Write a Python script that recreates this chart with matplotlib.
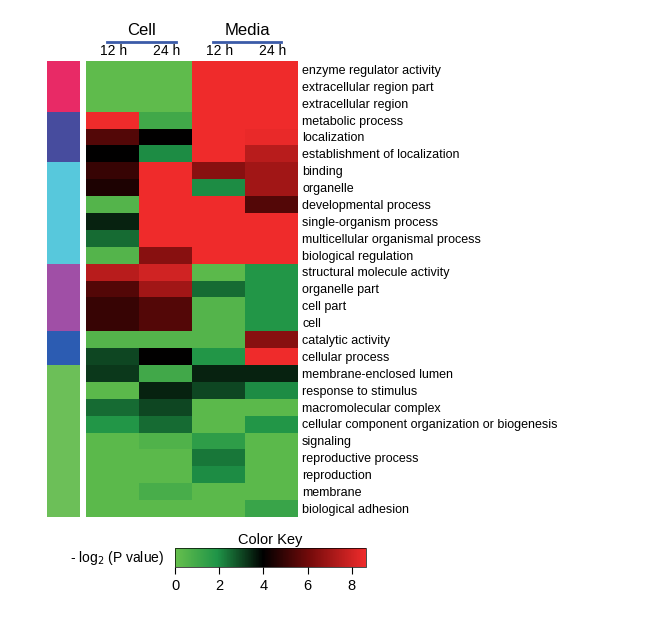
import numpy as np
import matplotlib
matplotlib.use("Agg")
import matplotlib.pyplot as plt
from matplotlib.colors import LinearSegmentedColormap, ListedColormap

plt.rcParams['font.family'] = ['Liberation Sans', 'DejaVu Sans']

# GO terms, top to bottom
terms = ["enzyme regulator activity", "extracellular region part", "extracellular region",
         "metabolic process", "localization", "establishment of localization",
         "binding", "organelle", "developmental process", "single-organism process",
         "multicellular organismal process", "biological regulation",
         "structural molecule activity", "organelle part", "cell part", "cell",
         "catalytic activity", "cellular process", "membrane-enclosed lumen",
         "response to stimulus", "macromolecular complex",
         "cellular component organization or biogenesis", "signaling",
         "reproductive process", "reproduction", "membrane", "biological adhesion"]

groups = ["Cell", "Media"]
times = ["12 h", "24 h"]

# -log2(P value), columns: Cell 12h, Cell 24h, Media 12h, Media 24h
cell_12 = [0.2, 0.2, 0.2, 8.7, 5.5, 4.0, 5.0, 4.5, 0.5, 3.5, 2.5, 0.5, 7.5, 5.5,
           5.0, 5.0, 0.5, 3.0, 3.2, 0.3, 2.5, 1.8, 0.3, 0.3, 0.3, 0.3, 0.3]
cell_24 = [0.2, 0.2, 0.2, 1.0, 4.0, 2.0, 8.7, 8.7, 8.7, 8.7, 8.7, 6.5, 8.0, 7.0,
           5.5, 5.5, 0.5, 4.0, 1.0, 3.5, 3.0, 2.5, 0.6, 0.3, 0.3, 0.8, 0.3]
media_12 = [8.7, 8.7, 8.7, 8.7, 8.7, 8.7, 6.5, 2.0, 8.7, 8.7, 8.7, 8.7, 0.3, 2.5,
            0.5, 0.5, 0.5, 1.8, 3.5, 3.0, 0.3, 0.3, 1.5, 2.3, 2.0, 0.3, 0.3]
media_24 = [8.7, 8.7, 8.7, 8.7, 8.5, 7.5, 7.0, 7.0, 5.5, 8.7, 8.7, 8.7, 1.8, 1.8,
            1.8, 1.8, 6.5, 8.7, 3.5, 2.0, 0.3, 1.8, 0.3, 0.3, 0.3, 0.3, 1.2]

# row cluster membership (side colour bar)
clusters = [0, 0, 0, 1, 1, 1, 2, 2, 2, 2, 2, 2, 3, 3, 3, 3, 4, 4, 5, 5, 5, 5, 5, 5, 5, 5, 5]
cluster_colors = ["#e82a66", "#474c9e", "#57c8dc", "#a04fa6", "#2c5cb2", "#6cbf58"]

vmax = 8.65
cmap = LinearSegmentedColormap.from_list("gbr", [
    (0.0, (0.40, 0.75, 0.30)),
    (0.22, (0.12, 0.58, 0.28)),
    (0.46, (0.0, 0.0, 0.0)),
    (0.70, (0.45, 0.04, 0.04)),
    (1.0, (0.94, 0.17, 0.17))])

data = np.array([cell_12, cell_24, media_12, media_24]).T
n = len(terms)

fig = plt.figure(figsize=(6.46, 6.28), dpi=100)

# side cluster bar
ax_side = fig.add_axes([0.073, 0.177, 0.051, 0.726])
ax_side.imshow(np.array(clusters).reshape(-1, 1), cmap=ListedColormap(cluster_colors),
               vmin=-0.5, vmax=len(cluster_colors) - 0.5, aspect='auto', interpolation='nearest')
ax_side.axis('off')

# heatmap
ax = fig.add_axes([0.133, 0.177, 0.327, 0.726])
ax.imshow(data, cmap=cmap, vmin=0, vmax=vmax, aspect='auto', interpolation='nearest')
ax.set_xticks([])
ax.set_yticks(range(n))
ax.set_yticklabels(terms, fontsize=9)
ax.yaxis.tick_right()
ax.tick_params(axis='y', length=0, pad=3.5)
for s in ax.spines.values():
    s.set_visible(False)

# column headers
for gi, g in enumerate(groups):
    xc = gi * 2 + 0.55
    ax.text(xc, -1.85, g, ha='center', va='bottom', fontsize=12)
    ax.plot([xc - 0.65, xc + 0.65], [-1.64, -1.64], color='#3b5ba8', lw=2, clip_on=False)
    for ti, t in enumerate(times):
        ax.text(gi * 2 + ti + 0.03, -0.7, t, ha='center', va='bottom', fontsize=10)
ax.set_xlim(-0.5, 3.5)
ax.set_ylim(n - 0.5, -0.5)

# colour key
cax = fig.add_axes([0.271, 0.097, 0.296, 0.030])
cb = fig.colorbar(plt.cm.ScalarMappable(norm=plt.Normalize(0, vmax), cmap=cmap),
                  cax=cax, orientation='horizontal')
cb.set_ticks([0, 2, 4, 6, 8])
cb.ax.tick_params(labelsize=10.5, length=5, width=0.8)
cb.outline.set_linewidth(0.5)
cb.ax.set_title("Color Key", fontsize=10.5, pad=3)
fig.text(0.255, 0.112, "- log$_2$ (P value)", ha='right', va='center', fontsize=10)

fig.savefig("out.png", dpi=100)
